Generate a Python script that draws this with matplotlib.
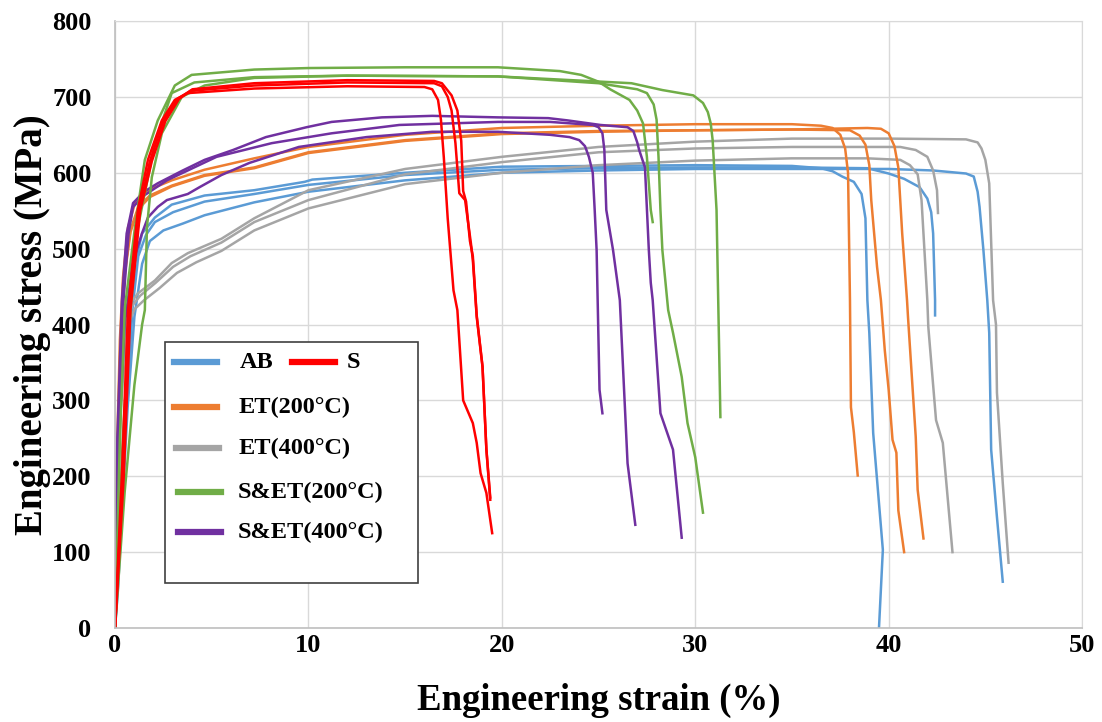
import matplotlib
matplotlib.use("Agg")
import matplotlib.pyplot as plt
from matplotlib.lines import Line2D
from matplotlib.patches import Rectangle

# (strain %, stress MPa), one list per specimen
AB_1 = [(0, 0), (0.1, 50), (0.26, 130), (0.51, 260), (0.77, 390), (1.03, 480), (1.4, 520),
        (2.06, 541), (2.93, 558), (4.63, 570), (7.2, 577), (9.8, 588), (10.2, 591), (15, 600),
        (20, 608), (25, 609), (30, 610), (35, 609), (36.5, 606), (37.1, 602), (37.6, 595),
        (38.2, 588), (38.6, 572), (38.8, 540), (38.9, 432), (39.0, 389), (39.2, 257),
        (39.7, 103), (39.5, 0)]
AB_2 = [(0, 0), (0.12, 50), (0.3, 140), (0.6, 290), (0.9, 420), (1.2, 490), (1.6, 518),
        (2.06, 535), (3, 548), (4.63, 562), (7.2, 572), (10, 584), (15, 597), (20, 604),
        (25, 606), (30, 607), (35, 607), (38.9, 606), (40.0, 599), (40.8, 592), (41.6, 581),
        (42.0, 566), (42.2, 548), (42.3, 520), (42.4, 432), (42.4, 412)]
AB_3 = [(0, 0), (0.15, 50), (0.35, 150), (0.65, 290), (1.0, 410), (1.4, 480), (1.8, 510),
        (2.5, 524), (3.5, 533), (4.63, 544), (7.2, 561), (10, 575), (15, 590), (20, 600),
        (25, 603), (30, 605), (35, 605), (40, 605), (42.3, 603), (44.0, 599), (44.4, 595),
        (44.6, 575), (44.7, 555), (44.9, 498), (45.1, 432), (45.2, 389), (45.3, 235),
        (45.6, 146), (45.9, 61)]

S_1 = [(0, 0), (0.35, 200), (0.67, 419), (1.18, 551), (1.7, 617), (2.42, 669), (3.09, 696),
       (3.76, 705), (7.2, 711), (12, 714), (16.0, 713), (16.4, 710), (16.7, 696), (16.85, 670),
       (17.0, 620), (17.2, 540), (17.5, 445), (17.7, 419), (18.0, 300), (18.5, 270),
       (18.7, 244), (18.9, 204), (19.2, 178), (19.5, 125)]
S_2 = [(0, 0), (0.4, 200), (0.75, 420), (1.25, 550), (1.8, 615), (2.5, 668), (3.2, 697),
       (3.9, 708), (7.2, 715), (12, 719), (16.5, 718), (16.9, 714), (17.2, 700), (17.4, 682),
       (17.6, 639), (17.8, 573), (18.1, 564), (18.4, 507), (18.5, 485), (18.7, 410),
       (19.0, 344), (19.2, 235), (19.4, 169)]
S_3 = [(0, 0), (0.45, 200), (0.8, 420), (1.3, 550), (1.9, 615), (2.6, 668), (3.3, 697),
       (4.0, 710), (7.2, 718), (12, 722), (16.5, 721), (16.9, 718), (17.4, 702), (17.7, 682),
       (17.9, 642), (18.0, 576), (18.15, 562), (18.35, 510), (18.5, 490), (18.7, 412),
       (19.0, 345), (19.2, 236), (19.4, 172)]

ET200_1 = [(0, 0), (0.1, 230), (0.25, 380), (0.41, 462), (0.67, 528), (1.03, 560), (1.7, 577),
           (2.93, 590), (4.63, 604), (7.2, 619), (10, 634), (15, 650), (20, 659), (25, 662),
           (30, 664), (35, 664), (36.5, 662), (37.1, 659), (37.5, 650), (37.75, 632),
           (37.9, 600), (38.0, 432), (38.05, 291), (38.2, 258), (38.4, 201)]
ET200_2 = [(0, 0), (0.12, 220), (0.3, 380), (0.5, 470), (0.8, 525), (1.2, 555), (1.8, 570),
           (2.93, 583), (4.63, 597), (7.2, 607), (10, 627), (15, 643), (20, 652), (25, 655),
           (30, 656), (35, 657), (38.0, 656), (38.5, 649), (38.8, 637), (39.0, 610),
           (39.1, 564), (39.4, 476), (39.6, 432), (39.8, 366), (40.0, 314), (40.2, 248),
           (40.4, 231), (40.5, 155), (40.8, 100)]
ET200_3 = [(0, 0), (0.1, 200), (0.28, 370), (0.5, 465), (0.8, 522), (1.2, 552), (1.8, 568),
           (2.93, 582), (4.63, 596), (7.2, 606), (10, 626), (15, 642), (20, 651), (25, 654),
           (30, 656), (35, 657), (38.9, 659), (39.6, 658), (40.0, 652), (40.3, 635),
           (40.5, 607), (40.7, 520), (40.95, 432), (41.0, 410), (41.4, 252), (41.5, 182),
           (41.8, 118)]

ET400_1 = [(0, 0), (0.1, 150), (0.26, 300), (0.51, 410), (0.8, 428), (1.18, 441), (2.06, 458),
           (2.93, 481), (3.76, 494), (5.5, 513), (7.2, 540), (10, 577), (15, 605), (20, 621),
           (25, 634), (30, 641), (35, 645), (40, 645), (44.0, 644), (44.6, 640), (44.8, 632),
           (45.0, 617), (45.2, 586), (45.4, 432), (45.55, 400), (45.6, 310), (45.9, 191),
           (46.2, 86)]
ET400_2 = [(0, 0), (0.1, 140), (0.28, 300), (0.55, 400), (0.9, 425), (1.3, 438), (2.1, 455),
           (3, 476), (3.9, 490), (5.5, 508), (7.2, 535), (10, 564), (15, 598), (20, 614),
           (25, 627), (30, 632), (35, 634), (40.6, 634), (41.4, 630), (42.0, 621), (42.3, 603),
           (42.5, 577), (42.55, 547)]
ET400_3 = [(0, 0), (0.12, 140), (0.3, 290), (0.6, 395), (1.0, 420), (1.5, 432), (2.3, 448),
           (3.2, 468), (4.2, 482), (5.5, 497), (7.2, 524), (10, 553), (15, 585), (20, 600),
           (25, 610), (30, 616), (35, 619), (38.9, 619), (40.6, 617), (41.1, 610), (41.5, 598),
           (41.7, 564), (42.0, 432), (42.05, 397), (42.45, 274), (42.8, 244), (43.3, 100)]

SET200_1 = [(0, 0), (0.25, 250), (0.51, 423), (1.03, 528), (1.54, 617), (2.21, 669),
            (3.09, 715), (3.96, 729), (7.2, 736), (10, 738), (15, 739), (19.8, 739),
            (23.0, 734), (24.1, 729), (25.0, 720), (25.6, 710), (26.6, 696), (27.0, 682),
            (27.3, 665), (27.5, 621), (27.7, 551), (27.8, 535)]
SET200_2 = [(0, 0), (0.4, 250), (0.8, 420), (1.18, 528), (2.06, 639), (2.93, 705), (4.1, 719),
            (7.2, 726), (12, 728), (19.8, 727), (25.0, 718), (27.0, 710), (27.5, 705),
            (27.85, 690), (28.0, 670), (28.1, 621), (28.2, 551), (28.3, 498), (28.6, 419),
            (28.85, 389), (29.3, 331), (29.6, 270), (30.0, 225), (30.4, 152)]
SET200_3 = [(0, 0), (0.5, 180), (1.0, 320), (1.4, 400), (1.54, 419), (1.65, 528), (1.9, 594),
            (2.42, 652), (3.45, 700), (4.63, 715), (7.2, 725), (12, 728), (19.8, 727),
            (26.7, 718), (28.3, 709), (29.9, 702), (30.4, 692), (30.65, 680), (30.8, 665),
            (30.9, 643), (31.1, 551), (31.3, 278)]

SET400_1 = [(0, 0), (0.2, 250), (0.5, 400), (0.9, 480), (1.39, 520), (1.7, 541), (2.21, 555),
            (2.68, 564), (3.76, 572), (4.37, 581), (5.5, 597), (6.95, 613), (9.5, 634),
            (13, 647), (16.4, 654), (19.8, 654), (22.5, 650), (23.5, 647), (24.0, 643),
            (24.3, 635), (24.5, 621), (24.7, 600), (24.8, 551), (24.9, 498), (25.05, 314),
            (25.2, 283)]
SET400_2 = [(0, 0), (0.15, 250), (0.4, 420), (0.7, 520), (0.93, 555), (1.5, 570), (2.68, 590),
            (5.25, 621), (8.1, 639), (11.2, 652), (14.7, 663), (19.8, 667), (22.5, 667),
            (24.7, 663), (25.0, 660), (25.2, 652), (25.3, 630), (25.4, 551), (25.75, 498),
            (26.1, 432), (26.5, 217), (26.9, 136)]
SET400_3 = [(0, 0), (0.12, 250), (0.35, 430), (0.6, 520), (0.93, 560), (1.5, 575), (2.2, 586),
            (3.5, 603), (4.63, 617), (6.1, 630), (7.8, 647), (9.9, 660), (11.2, 667),
            (13.8, 673), (16.4, 675), (19.8, 673), (22.4, 672), (23.4, 669), (25.1, 663),
            (26.5, 660), (26.8, 655), (27.0, 640), (27.1, 630), (27.4, 607), (27.6, 498),
            (27.7, 455), (27.8, 432), (28.2, 283), (28.85, 235), (29.3, 119)]

labels = ["AB", "S", "ET(200\u00b0C)", "ET(400\u00b0C)", "S&ET(200\u00b0C)", "S&ET(400\u00b0C)"]
colors = ["#5B9BD5", "#FF0000", "#ED7D31", "#A5A5A5", "#70AD47", "#7030A0"]
groups = [[AB_1, AB_2, AB_3], [S_1, S_2, S_3], [ET200_1, ET200_2, ET200_3],
          [ET400_1, ET400_2, ET400_3], [SET200_1, SET200_2, SET200_3],
          [SET400_1, SET400_2, SET400_3]]
draw_order = [0, 3, 2, 5, 4, 1]

plt.rcParams['font.family'] = ['Liberation Serif', 'DejaVu Serif']
plt.rcParams['font.weight'] = 'bold'

fig = plt.figure(figsize=(11.02, 7.22), dpi=100)
ax = fig.add_axes([0.1044, 0.1302, 0.8775, 0.8407])

for i in draw_order:
    for curve in groups[i]:
        xs = [p[0] for p in curve]
        ys = [p[1] for p in curve]
        ax.plot(xs, ys, color=colors[i], lw=1.8, solid_joinstyle='round')

ax.set_xlim(0, 50)
ax.set_ylim(0, 800)
ax.set_xticks(range(0, 51, 10))
ax.set_yticks(range(0, 801, 100))
ax.grid(True, color='#D9D9D9', lw=1.0)
ax.set_axisbelow(True)
for side in ['top', 'right']:
    ax.spines[side].set_color('#D9D9D9')
for side in ['left', 'bottom']:
    ax.spines[side].set_color('#BFBFBF')
    ax.spines[side].set_linewidth(1.2)
ax.tick_params(length=0, labelsize=19)
ax.tick_params(axis='y', pad=17)
ax.tick_params(axis='x', pad=4)
for lab in ax.get_xticklabels() + ax.get_yticklabels():
    lab.set_fontweight('bold')
ax.set_xlabel("Engineering strain (%)", fontsize=26.5, fontweight='bold', labelpad=19)
ax.set_ylabel("Engineering stress (MPa)", fontsize=28, fontweight='bold')
ax.yaxis.set_label_coords(-0.066, 0.5)

# hand-built legend box as in the original
def fx(px):
    return (px - 115) / 967.0

def fy(py):
    return (628 - py) / 607.0

ax.add_patch(Rectangle((fx(165), fy(583)), fx(418) - fx(165), fy(342) - fy(583),
                       transform=ax.transAxes, facecolor='white', edgecolor='#404040',
                       lw=1.2, zorder=5))
rows = [(174, 362, 240, 0), (292, 362, 347, 1), (174, 407, 238, 2), (176, 448, 238, 3),
        (178, 492, 238, 4), (178, 532, 238, 5)]
for hx, hy, tx, k in rows:
    ax.add_line(Line2D([fx(hx), fx(hx + 43)], [fy(hy), fy(hy)], transform=ax.transAxes,
                       color=colors[k], lw=4.5, zorder=6))
    ax.text(fx(tx), fy(hy), labels[k], transform=ax.transAxes, fontsize=17.5,
            fontweight='bold', va='center', ha='left', zorder=6)

fig.savefig("out.png", dpi=100)
